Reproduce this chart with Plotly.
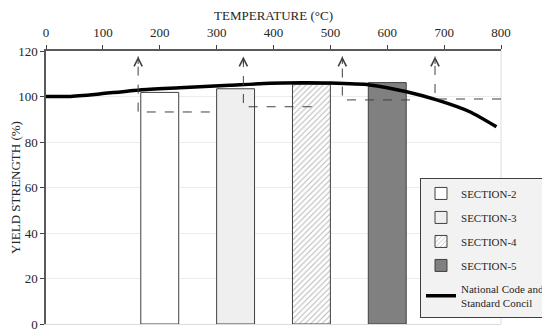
import plotly.graph_objects as go

# ---- data ----
sections = ["SECTION-2", "SECTION-3", "SECTION-4", "SECTION-5"]
section_strength = [101.8, 103.4, 105.4, 106.1]

temp_c = [0, 40, 90, 165, 235, 323, 394, 450, 499, 569, 634, 687, 745, 792]
code_strength = [100, 100, 101, 102.9, 103.8, 104.9, 105.8, 106, 105.9, 105.1, 102.1, 98.5, 93.3, 86.7]

arrow_temp = [162, 347, 521, 684]
arrow_level = [93.2, 95.5, 98.5, 98.9]
level_end_temp = [288, 467, 640, 800]
arrow_top = 117.6

temp_ticks = [0, 100, 200, 300, 400, 500, 600, 700, 800]
strength_ticks = [0, 20, 40, 60, 80, 100, 120]

FONT = "Liberation Serif, Times New Roman, serif"
DARK = "#404040"

fills = ["#ffffff", "#efefef", "#ffffff", "#808080"]
patterns = ["", "", "/", ""]

fig = go.Figure()

for name, val, fc, pat in zip(sections, section_strength, fills, patterns):
    marker = dict(color=fc, line=dict(color=DARK, width=1))
    if pat:
        marker["pattern"] = dict(shape=pat, fgcolor="#b8b8b8", bgcolor="#ffffff",
                                 size=4, solidity=0.25, fillmode="replace")
    fig.add_trace(go.Bar(x=[name], y=[val], name=name, marker=marker, width=0.5,
                         xaxis="x", yaxis="y", legendgroup=name))

fig.add_trace(go.Scatter(x=temp_c, y=code_strength, mode="lines",
                         name="National Code and<br>Standard Concil",
                         line=dict(color="#000000", width=3.5, shape="spline", smoothing=0.6),
                         xaxis="x2", yaxis="y", legendgroup="code"))

for xa, ya, xe in zip(arrow_temp, arrow_level, level_end_temp):
    fig.add_trace(go.Scatter(x=[xe, xa, xa], y=[ya, ya, arrow_top], mode="lines",
                             line=dict(color=DARK, width=1, dash="dash"),
                             showlegend=False, hoverinfo="skip", xaxis="x2", yaxis="y"))
    fig.add_annotation(x=xa, y=arrow_top, xref="x2", yref="y", ax=0, ay=9,
                       showarrow=True, arrowhead=5, arrowsize=1.6, arrowwidth=1,
                       arrowcolor=DARK, text="")

# page body has an 8px margin: figure is sized to fit the 550x336 window
fig.update_layout(
    width=542, height=328,
    margin=dict(l=38, r=49, t=43, b=12, autoexpand=False),
    paper_bgcolor="white", plot_bgcolor="white",
    font=dict(family=FONT, size=13, color="#262626"),
    barmode="overlay",
    showlegend=True,
    legend=dict(x=0.822, y=0.535, xanchor="left", yanchor="top",
                bgcolor="#f2f2f2", bordercolor=DARK, borderwidth=1,
                font=dict(family=FONT, size=11, color="#262626"),
                tracegroupgap=5, itemwidth=30),
    xaxis=dict(type="category", categoryarray=sections, range=[-1.5, 4.5],
               showticklabels=False, ticks="", showgrid=False, zeroline=False,
               showline=True, linecolor="#dcdcdc", linewidth=1, fixedrange=True),
    xaxis2=dict(overlaying="x", side="top", range=[0, 800], tickvals=temp_ticks,
                ticks="outside", ticklen=4, tickcolor=DARK, tickwidth=1,
                ticklabelstandoff=3,
                showline=True, linecolor="#595959", linewidth=2,
                showgrid=False, zeroline=False,
                title=dict(text="TEMPERATURE (°C)", font=dict(size=13), standoff=7),
                tickfont=dict(size=13)),
    yaxis=dict(range=[0, 120], tickvals=strength_ticks, ticks="outside", ticklen=4,
               tickcolor=DARK, showline=True, linecolor="#595959", linewidth=1.5,
               showgrid=True, gridcolor="#ececec", zeroline=False,
               title=dict(text="YIELD STRENGTH (%)", font=dict(size=13), standoff=6),
               tickfont=dict(size=13)),
    shapes=[dict(type="line", xref="paper", yref="paper", x0=1, x1=1, y0=0, y1=1,
                 line=dict(color="#dcdcdc", width=1), layer="below")],
)

fig.write_html("out.html")
